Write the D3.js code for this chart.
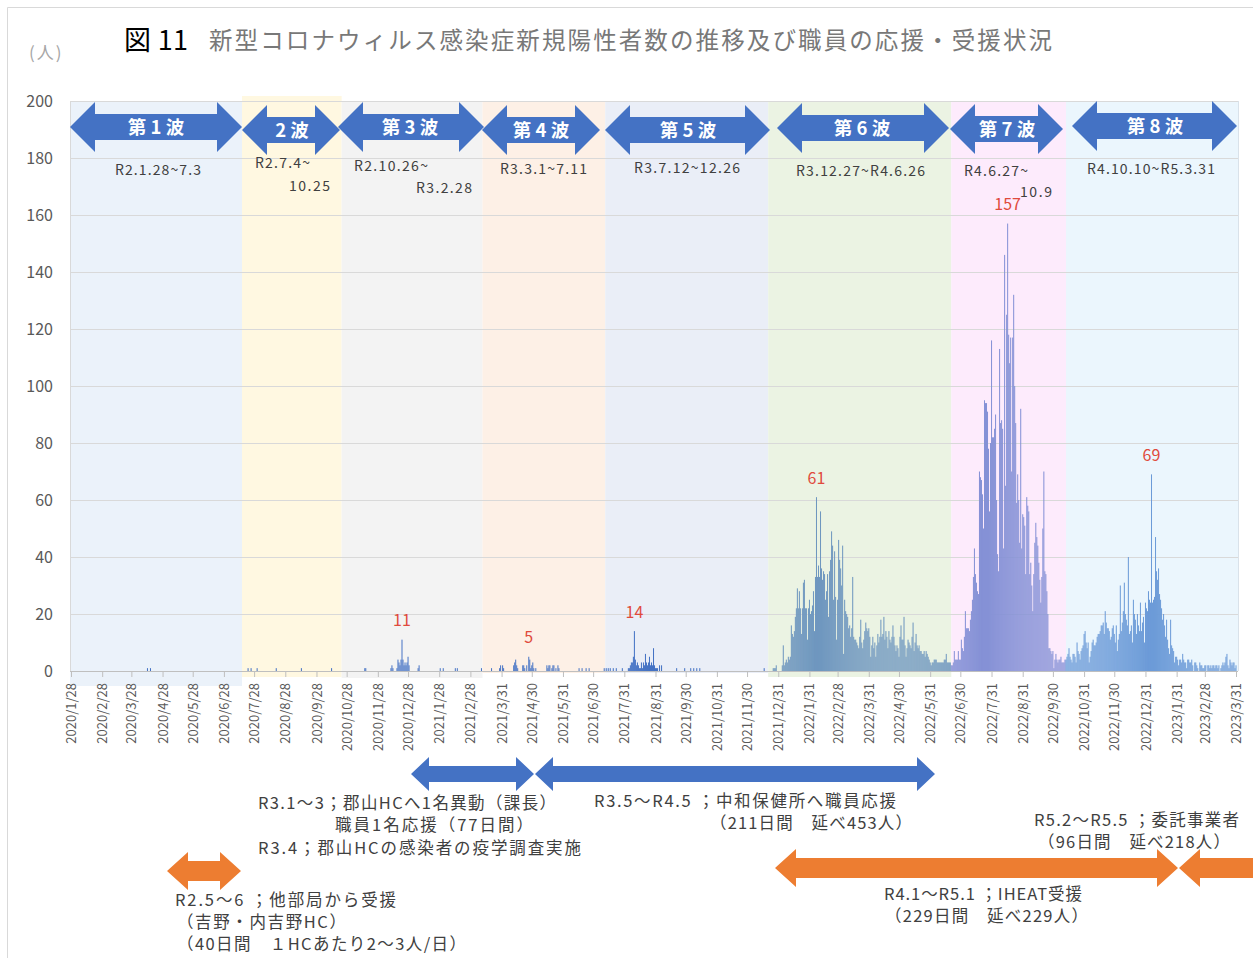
<!DOCTYPE html>
<html><head><meta charset="utf-8">
<script src="https://cdn.jsdelivr.net/npm/d3@7"></script>
<style>
body{margin:0;background:#fff}
svg{display:block}
text{font-family:"Noto Sans CJK JP","Noto Sans",sans-serif}
</style>
</head><body>
<svg id="c" width="1253" height="958"></svg>
<script>
// ---------------- DATA ----------------
// x-axis tick labels (dates)
const xTickDates = ["2020-01-28","2020-02-28","2020-03-28","2020-04-28","2020-05-28","2020-06-28","2020-07-28","2020-08-28","2020-09-28","2020-10-28","2020-11-28","2020-12-28","2021-01-28","2021-02-28","2021-03-31","2021-04-30","2021-05-31","2021-06-30","2021-07-31","2021-08-31","2021-09-30","2021-10-31","2021-11-30","2021-12-31","2022-01-31","2022-02-28","2022-03-31","2022-04-30","2022-05-31","2022-06-30","2022-07-31","2022-08-31","2022-09-30","2022-10-31","2022-11-30","2022-12-31","2023-01-31","2023-02-28","2023-03-31"];
const yTicks = [0,20,40,60,80,100,120,140,160,180,200];

// daily new positive cases, waves 1-5 (sparse days with cases)
const earlyCases = [
["2020-04-13",1],["2020-04-16",1],
["2020-07-22",1],["2020-07-25",1],["2020-07-31",1],["2020-08-19",1],["2020-09-13",1],["2020-10-13",1],
["2020-11-15",1],["2020-11-16",1],
["2020-12-11",1],["2020-12-12",2],["2020-12-13",1],
["2020-12-17",1],["2020-12-18",4],["2020-12-19",3],["2020-12-20",2],["2020-12-21",4],["2020-12-22",11],["2020-12-23",4],["2020-12-24",2],["2020-12-25",3],["2020-12-26",2],["2020-12-27",3],["2020-12-28",5],["2020-12-29",2],
["2021-01-07",1],["2021-01-08",2],
["2021-01-29",1],["2021-02-01",1],["2021-02-13",1],["2021-02-15",1],
["2021-03-11",1],["2021-03-21",1],
["2021-03-29",1],["2021-03-30",2],["2021-04-01",2],["2021-04-02",1],
["2021-04-12",2],["2021-04-13",3],["2021-04-14",4],["2021-04-15",2],["2021-04-16",1],
["2021-04-21",2],["2021-04-22",2],["2021-04-23",1],["2021-04-25",2],["2021-04-27",5],["2021-04-28",4],["2021-04-29",1],["2021-04-30",2],["2021-05-01",3],["2021-05-02",1],["2021-05-04",1],
["2021-05-15",2],["2021-05-16",1],["2021-05-17",2],["2021-05-18",2],["2021-05-20",1],["2021-05-21",2],["2021-05-22",2],["2021-05-24",1],["2021-05-26",2],["2021-05-27",1],
["2021-06-16",1],["2021-06-19",1],["2021-06-23",1],["2021-06-26",1],
["2021-07-11",1],["2021-07-13",1],["2021-07-15",1],["2021-07-17",1],["2021-07-20",1],["2021-07-23",1],
["2021-07-29",1],["2021-08-04",1],["2021-08-05",1],["2021-08-06",2],["2021-08-07",3],["2021-08-08",3],["2021-08-09",5],["2021-08-10",14],["2021-08-11",4],["2021-08-12",2],["2021-08-13",3],["2021-08-14",2],["2021-08-15",1],["2021-08-16",1],["2021-08-17",3],["2021-08-18",1],["2021-08-19",3],["2021-08-20",2],["2021-08-21",6],["2021-08-22",3],["2021-08-23",2],["2021-08-24",3],["2021-08-25",5],["2021-08-26",2],["2021-08-27",3],["2021-08-28",2],["2021-08-29",8],["2021-08-30",2],["2021-08-31",1],["2021-09-01",1],["2021-09-02",1],["2021-09-04",2],["2021-09-06",2],
["2021-09-21",1],["2021-09-29",1],["2021-10-05",1],["2021-10-08",1],["2021-10-11",1],["2021-10-14",1],
["2021-12-17",1]
];

// wave 6: daily values from 2021-12-23
const wave6Start = "2021-12-23";
const wave6Cases = [
0,0,0,1,1,1,2,0,0,0,
0,0,2,9,2,3,4,3,5,4,
5,16,13,12,14,19,22,29,22,28,
22,13,22,31,32,22,22,11,22,25,
20,21,23,28,14,33,61,33,37,33,
56,36,32,35,34,25,28,34,19,35,
39,49,44,25,42,26,11,25,46,39,
36,30,44,6,25,21,20,19,15,16,
12,15,33,12,11,11,10,9,8,12,
18,10,8,11,14,17,15,14,15,12,
5,9,12,8,10,5,9,13,10,12,
18,12,13,19,11,14,12,8,14,11,
10,12,16,12,9,7,9,8,5,12,
16,11,11,19,9,5,8,11,10,9,
8,12,17,7,10,13,9,8,9,7,
7,6,6,7,5,7,6,5,4,3,
2,3,3,4,4,4,3,3,3,3,
3,3,3,4,4,6,3,3,3,3,
2,2,3];

// wave 7: daily values from 2022-06-24
const wave7Start = "2022-06-24";
const wave7Cases = [
7,4,4,4,7,4,4,11,8,7,
12,21,15,15,15,14,18,21,25,33,
43,34,31,28,27,70,68,67,62,50,
95,94,94,91,78,56,80,116,82,82,
85,90,60,41,35,113,87,88,85,43,
146,65,125,157,118,108,117,70,117,132,
100,87,59,69,60,45,92,43,55,54,
51,34,61,58,56,34,38,30,21,34,
45,52,47,44,38,32,24,33,50,70,
35,34,28,20,8,8,7,6,7,1,
4,6,4,3,4,4,5,3,3,3,
4,4];

// wave 8: daily values from 2022-10-14
const wave8Start = "2022-10-14";
const wave8Cases = [
5,6,8,5,4,3,6,6,5,3,
10,7,6,4,7,8,9,13,14,10,
8,10,3,5,7,10,11,9,9,10,
12,13,13,14,16,16,17,13,21,17,
15,15,14,11,12,15,16,13,10,16,
7,11,13,30,14,17,21,31,20,18,
16,40,13,14,16,10,25,20,18,13,
20,16,14,24,14,17,19,10,24,22,
21,28,25,24,69,24,25,26,47,35,
32,36,27,25,22,18,20,16,12,18,
11,8,6,18,9,8,7,3,5,5,
4,2,4,4,3,6,4,3,3,1,
4,4,3,3,4,2,0,3,3,2,
1,0,3,2,2,1,1,2,2,0,
2,2,1,2,1,2,2,1,2,2,
1,2,0,1,2,3,2,3,5,6,
2,1,4,3,2,3,3,1,2];

// wave periods (shaded bands)
const waveNames = ["第 1 波","2 波","第 3 波","第 4 波","第 5 波","第 6 波","第 7 波","第 8 波"];
const bandStarts = ["2020-01-27","2020-07-16","2020-10-23","2021-03-12","2021-07-12","2021-12-21","2022-06-21","2022-10-13"];
const bandEnd = "2023-04-03";
const wavePeriodLabels = [["R2.1.28~7.3"],["R2.7.4~","10.25"],["R2.10.26~","R3.2.28"],["R3.3.1~7.11"],["R3.7.12~12.26"],["R3.12.27~R4.6.26"],["R4.6.27~","10.9"],["R4.10.10~R5.3.31"]];
// peak days labelled in red
const peakDates = ["2020-12-22","2021-04-27","2021-08-10","2022-02-07","2022-08-16","2023-01-06"];

// ---------------- STYLE / LAYOUT ----------------
const bandColors = ["#EBF2FA","#FFF8E1","#F3F3F3","#FDF0E6","#EAEEF7","#EBF3E3","#FDEBFC","#EBF6FD"];
const barColors  = ["#4472C4","#4472C4","#4A76C6","#4A76C6","#4472C4","#6F97BF","#8591D6","#6C9BD8"];
const bandTop    = [101,96,101,101,101,102,102,101];
const bandBottom = [686,677,678,673,673,677,671,671];
const topArrows = [
 {x1:70,x2:242,cy:127},{x1:242,x2:340,cy:130},{x1:338,x2:484,cy:127},{x1:482,x2:600,cy:130},
 {x1:605,x2:770,cy:130},{x1:777,x2:949,cy:128},{x1:950,x2:1063,cy:129},{x1:1072,x2:1237,cy:126}];
const topArrowText = [156,292,410,541,688,862,1007,1155];
const periodLayout = [
 [{x:115,y:175,w:86}],
 [{x:255,y:168,w:55},{x:289,y:191,w:41}],
 [{x:354,y:171,w:74},{x:416,y:193,w:56}],
 [{x:500,y:174,w:87}],
 [{x:634,y:173,w:106}],
 [{x:796,y:176,w:129}],
 [{x:964,y:176,w:64},{x:1020,y:197,w:32}],
 [{x:1087,y:174,w:128}]];

const FONT = '"Noto Sans CJK JP","Noto Sans",sans-serif';
const svg = d3.select("#c");
const parse = d3.utcParse("%Y-%m-%d");
const x = d3.scaleUtc().domain([parse("2020-01-28"), parse("2023-03-31")]).range([71,1236]);
const y = d3.scaleLinear().domain([0,200]).range([671,101]);

// chart frame
svg.append("line").attr("x1",7.5).attr("x2",1253).attr("y1",7.5).attr("y2",7.5).attr("stroke","#D9D9D9");
svg.append("line").attr("x1",7.5).attr("x2",7.5).attr("y1",7.5).attr("y2",958).attr("stroke","#D9D9D9");

// bands
const bandStartDates = bandStarts.map(parse);
const bandEdges = bandStartDates.concat([parse(bandEnd)]);
svg.append("g").selectAll("rect").data(bandStartDates).join("rect")
  .attr("x",(d,i)=>x(bandEdges[i]))
  .attr("width",(d,i)=>x(bandEdges[i+1])-x(bandEdges[i]))
  .attr("y",(d,i)=>bandTop[i])
  .attr("height",(d,i)=>bandBottom[i]-bandTop[i])
  .attr("fill",(d,i)=>bandColors[i]);

// gridlines
svg.append("g").selectAll("line").data(yTicks.filter(v=>v>0)).join("line")
  .attr("x1",70).attr("x2",1238).attr("y1",d=>Math.round(y(d))+0.5).attr("y2",d=>Math.round(y(d))+0.5)
  .attr("stroke","#D9D9D9");
svg.append("line").attr("x1",70.5).attr("x2",70.5).attr("y1",101).attr("y2",671).attr("stroke","#D9D9D9");
svg.append("line").attr("x1",1238.5).attr("x2",1238.5).attr("y1",101).attr("y2",671).attr("stroke","#D9E2EA");

// series
const series = [];
earlyCases.forEach(([d,v])=>series.push({date:parse(d),value:v}));
function addRun(start, values){
  const s = parse(start);
  values.forEach((v,i)=>series.push({date:d3.utcDay.offset(s,i),value:v}));
}
addRun(wave6Start, wave6Cases);
addRun(wave7Start, wave7Cases);
addRun(wave8Start, wave8Cases);
const bandIndex = d => Math.max(0, d3.bisectRight(bandStartDates, d) - 1);

svg.append("g").selectAll("rect").data(series.filter(d=>d.value>0)).join("rect")
  .attr("x",d=>x(d.date)-0.5)
  .attr("width",1.02)
  .attr("y",d=>y(d.value))
  .attr("height",d=>y(0)-y(d.value))
  .attr("fill",d=>barColors[bandIndex(d.date)]);

// x axis
const fmt = d3.utcFormat("%Y/%-m/%-d");
const gx = svg.append("g").attr("transform","translate(0,671)")
  .call(d3.axisBottom(x).tickValues(xTickDates.map(parse)).tickFormat(fmt).tickSize(6).tickSizeOuter(0));
gx.attr("font-family",FONT);
gx.select(".domain").attr("stroke","#BFBFBF").attr("d","M70,0.5H1238");
gx.selectAll(".tick line").attr("stroke","#BFBFBF");
gx.selectAll(".tick text").attr("transform","rotate(-90)").attr("text-anchor","end")
  .attr("x",-12).attr("y",0).attr("dy","0.35em").attr("fill","#595959").attr("font-size",13);

// y axis
const gy = svg.append("g").attr("transform","translate(70,0)")
  .call(d3.axisLeft(y).tickValues(yTicks).tickSize(0).tickPadding(17));
gy.attr("font-family",FONT);
gy.select(".domain").remove();
gy.selectAll(".tick text").attr("fill","#595959").attr("font-size",16);

svg.append("text").attr("x",29).attr("y",59).attr("font-size",17).attr("letter-spacing",2)
  .attr("fill","#A6A6A6").text("(人)");

// title
svg.append("text").attr("x",124).attr("y",50).attr("font-size",27).attr("fill","#000")
  .attr("textLength",64).attr("lengthAdjust","spacing").text("図 11");
svg.append("text").attr("x",209).attr("y",49).attr("font-size",23.5).attr("fill","#787878")
  .attr("textLength",843).attr("lengthAdjust","spacing")
  .text("新型コロナウィルス感染症新規陽性者数の推移及び職員の応援・受援状況");

// double arrows
function dblArrow(x1,x2,cy,h,s,L){
  return `M${x1},${cy}L${x1+L},${cy-h}L${x1+L},${cy-s}L${x2-L},${cy-s}L${x2-L},${cy-h}L${x2},${cy}L${x2-L},${cy+h}L${x2-L},${cy+s}L${x1+L},${cy+s}L${x1+L},${cy+h}Z`;
}
const ga = svg.append("g");
ga.selectAll("path").data(topArrows).join("path")
  .attr("d",d=>dblArrow(d.x1,d.x2,d.cy,25,13,25)).attr("fill","#4472C4");
ga.selectAll("text").data(waveNames).join("text")
  .attr("x",(d,i)=>topArrowText[i]).attr("y",(d,i)=>topArrows[i].cy+6.5)
  .attr("text-anchor","middle").attr("font-size",18.5).attr("font-weight","bold")
  .attr("fill","#fff").text(d=>d);

// period labels
wavePeriodLabels.forEach((lines,i)=>{
  lines.forEach((t,j)=>{
    const p = periodLayout[i][j];
    svg.append("text").attr("x",p.x).attr("y",p.y).attr("font-size",14).attr("fill","#404040")
      .attr("textLength",p.w).attr("lengthAdjust","spacing").text(t);
  });
});

// peak labels
const peakData = peakDates.map(d=>series.find(s=>+s.date===+parse(d)));
svg.append("g").selectAll("text").data(peakData).join("text")
  .attr("x",d=>x(d.date)).attr("y",d=>y(d.value)-13.5)
  .attr("text-anchor","middle").attr("font-size",16).attr("fill","#E04A3C").text(d=>d.value);

// bottom annotation arrows
const bottomArrows = [
 {x1:411,x2:534,cy:774,h:17,s:8,L:18,c:"#4472C4"},
 {x1:535,x2:935,cy:774,h:17,s:8,L:18,c:"#4472C4"},
 {x1:167,x2:241,cy:871,h:19,s:10,L:21,c:"#ED7D31"},
 {x1:775,x2:1178,cy:868,h:19,s:10,L:21,c:"#ED7D31"},
 {x1:1179,x2:1320,cy:868,h:19,s:10,L:21,c:"#ED7D31"}];
svg.append("g").selectAll("path").data(bottomArrows).join("path")
  .attr("d",d=>dblArrow(d.x1,d.x2,d.cy,d.h,d.s,d.L)).attr("fill",d=>d.c);

const notes = [
 {t:"R3.1～3；郡山HCへ1名異動（課長）",x:258,y:809,w:298},
 {t:"職員1名応援（77日間）",x:335,y:831,w:198},
 {t:"R3.4；郡山HCの感染者の疫学調査実施",x:258,y:854,w:323},
 {t:"R3.5～R4.5 ；中和保健所へ職員応援",x:594,y:807,w:302},
 {t:"（211日間　延べ453人）",x:710,y:829,w:202},
 {t:"R5.2～R5.5 ；委託事業者",x:1034,y:826,w:205},
 {t:"（96日間　延べ218人）",x:1038,y:848,w:192},
 {t:"R4.1～R5.1 ；IHEAT受援",x:884,y:900,w:198},
 {t:"（229日間　延べ229人）",x:885,y:922,w:203},
 {t:"R2.5～6 ；他部局から受援",x:175,y:906,w:221},
 {t:"（吉野・内吉野HC）",x:177,y:928,w:169},
 {t:"（40日間　１HCあたり2～3人/日）",x:177,y:950,w:289}];
svg.append("g").selectAll("text").data(notes).join("text")
  .attr("x",d=>d.x).attr("y",d=>d.y).attr("font-size",16.5).attr("fill","#404040")
  .attr("textLength",d=>d.w).attr("lengthAdjust","spacing").text(d=>d.t);
</script>
</body></html>
